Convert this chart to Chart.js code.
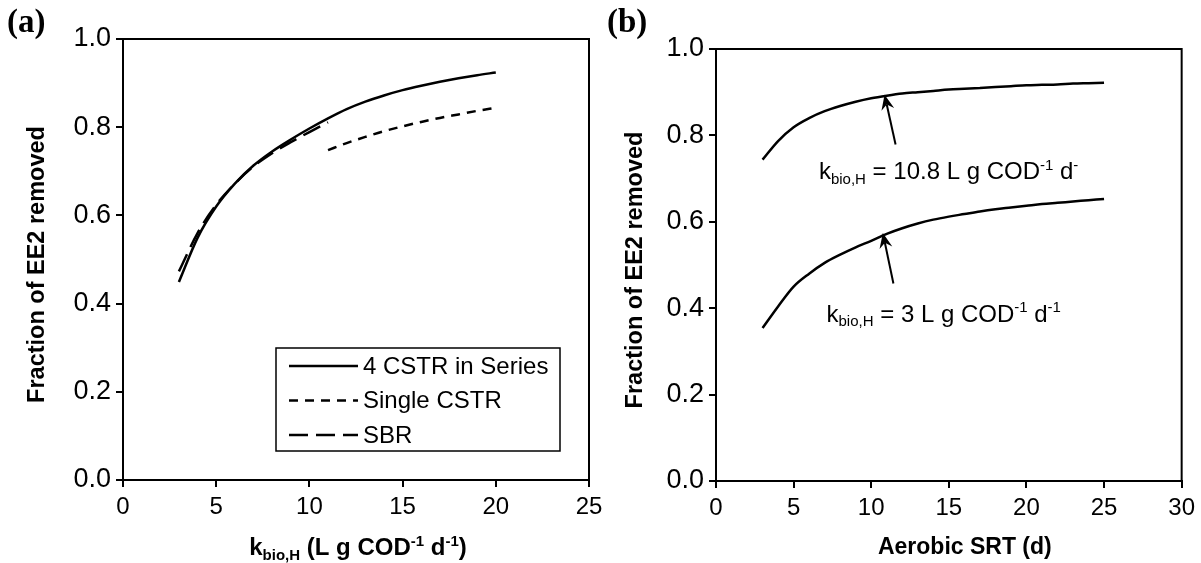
<!DOCTYPE html>
<html>
<head>
<meta charset="utf-8">
<script src="https://cdn.jsdelivr.net/npm/chart.js@4.4.1/dist/chart.umd.min.js"></script>
<style>
  html, body { margin: 0; padding: 0; background: #fff; }
  #wrap { position: relative; width: 1201px; height: 563px; overflow: hidden; }
  #chartA { position: absolute; left: 0; top: 0; }
  #chartB { position: absolute; left: 600px; top: 0; }
</style>
</head>
<body>
<div id="wrap">
  <canvas id="chartA" width="630" height="563"></canvas>
  <canvas id="chartB" width="601" height="563"></canvas>
</div>
<script>
// ---- Panel (a): fraction of EE2 removed vs k_bio,H for three reactor layouts ----
const kbioFourCstr = [3, 4, 5, 6, 7, 8, 9, 10, 11, 12, 13, 14, 15, 16, 17, 18, 19, 20];
const removedFourCstr = [0.449, 0.549, 0.620, 0.672, 0.713, 0.745, 0.772, 0.797, 0.820, 0.841, 0.858, 0.872, 0.884, 0.894, 0.903, 0.911, 0.918, 0.924];
const kbioSingleCstr = [11, 12, 13, 14, 15, 16, 17, 18, 19, 20];
const removedSingleCstr = [0.748, 0.764, 0.778, 0.791, 0.802, 0.812, 0.821, 0.829, 0.837, 0.844];
const kbioSbr = [3, 4, 5, 6, 7, 8, 9, 10, 11];
const removedSbr = [0.473, 0.560, 0.624, 0.672, 0.711, 0.741, 0.766, 0.789, 0.811];
const seriesNamesA = ['4 CSTR in Series', 'Single CSTR', 'SBR'];
const xTicksA = [0, 5, 10, 15, 20, 25];

// ---- Panel (b): fraction of EE2 removed vs aerobic SRT for two k_bio,H values ----
const srtDays = [3, 4, 5, 6, 7, 8, 9, 10, 11, 12, 13, 14, 15, 16, 17, 18, 19, 20, 21, 22, 23, 24, 25];
const removedK108 = [0.744, 0.787, 0.819, 0.840, 0.856, 0.868, 0.878, 0.886, 0.892, 0.897, 0.900, 0.903, 0.906, 0.908, 0.910, 0.912, 0.914, 0.916, 0.917, 0.918, 0.920, 0.921, 0.922];
const removedK3 = [0.354, 0.404, 0.450, 0.480, 0.505, 0.524, 0.541, 0.556, 0.572, 0.585, 0.596, 0.605, 0.612, 0.618, 0.624, 0.629, 0.633, 0.637, 0.641, 0.644, 0.647, 0.650, 0.653];
const seriesNamesB = ['k_bio,H = 10.8', 'k_bio,H = 3'];
const xTicksB = [0, 5, 10, 15, 20, 25, 30];

const yTicks = [0, 0.2, 0.4, 0.6, 0.8, 1.0];

const SANS = "'Liberation Sans', Arial, sans-serif";
const SERIF = "'Liberation Serif', 'Times New Roman', serif";

function points(xs, ys) { return xs.map((x, i) => ({ x: x, y: ys[i] })); }

// Draws text made of normal / subscript / superscript runs.
function drawRich(ctx, runs, x, y, size, weight, align) {
  const small = Math.round(size * 0.62);
  const fontFor = k => `${weight} ${k === 0 ? size : small}px ${SANS}`;
  let total = 0;
  runs.forEach(([t, k]) => { ctx.font = fontFor(k); total += ctx.measureText(t).width; });
  let cx = align === 'center' ? x - total / 2 : x;
  ctx.textAlign = 'left';
  ctx.textBaseline = 'alphabetic';
  runs.forEach(([t, k]) => {
    ctx.font = fontFor(k);
    const dy = k === 1 ? size * 0.2 : (k === 2 ? -size * 0.38 : 0);
    ctx.fillText(t, cx, y + dy);
    cx += ctx.measureText(t).width;
  });
}

function drawArrow(ctx, x0, y0, x1, y1) {
  const ang = Math.atan2(y1 - y0, x1 - x0);
  const len = 15, half = 6.5, notch = 10;
  ctx.save();
  ctx.strokeStyle = '#000';
  ctx.fillStyle = '#000';
  ctx.lineWidth = 2;
  ctx.beginPath();
  ctx.moveTo(x0, y0);
  ctx.lineTo(x1 - Math.cos(ang) * notch, y1 - Math.sin(ang) * notch);
  ctx.stroke();
  ctx.translate(x1, y1);
  ctx.rotate(ang);
  ctx.beginPath();
  ctx.moveTo(0, 0);
  ctx.lineTo(-len, -half);
  ctx.lineTo(-notch, 0);
  ctx.lineTo(-len, half);
  ctx.closePath();
  ctx.fill();
  ctx.restore();
}

function axisOptions(ticksList, min, max, fmt, fixedSize, isX) {
  return {
    type: 'linear',
    min: min,
    max: max,
    afterBuildTicks: s => { s.ticks = ticksList.map(v => ({ value: v })); },
    afterFit: s => { if (isX) s.height = fixedSize; else s.width = fixedSize; },
    border: { display: true, color: '#000', width: 2 },
    grid: { display: true, drawOnChartArea: false, drawTicks: true, tickLength: 7, color: '#000', lineWidth: 2 },
    ticks: {
      color: '#000',
      font: { family: SANS, size: isX ? 24 : 27 },
      padding: isX ? 6 : 5,
      maxRotation: 0,
      autoSkip: false,
      callback: fmt
    }
  };
}

function frameAndTitles(letter, yTitleX, drawExtra) {
  return {
    id: 'frameAndTitles' + letter,
    afterDraw(chart) {
      const { ctx, chartArea: a } = chart;
      ctx.save();
      ctx.strokeStyle = '#000';
      ctx.lineWidth = 2;
      ctx.strokeRect(a.left, a.top, a.right - a.left, a.bottom - a.top);
      ctx.fillStyle = '#000';
      // panel letter
      ctx.font = `bold 33px ${SERIF}`;
      ctx.textAlign = 'left';
      ctx.textBaseline = 'alphabetic';
      ctx.fillText('(' + letter + ')', 7, 32);
      // y-axis title
      ctx.save();
      ctx.translate(yTitleX, (a.top + a.bottom) / 2 + 5);
      ctx.rotate(-Math.PI / 2);
      ctx.font = `bold 23.5px ${SANS}`;
      ctx.textAlign = 'center';
      ctx.textBaseline = 'middle';
      ctx.fillText('Fraction of EE2 removed', 0, 0);
      ctx.restore();
      drawExtra(chart, ctx, a);
      ctx.restore();
    }
  };
}

const lineStyle = (dash) => ({
  borderColor: '#000', backgroundColor: '#000', borderWidth: 2.5, borderDash: dash,
  pointRadius: 0, showLine: true, fill: false, cubicInterpolationMode: 'monotone'
});

const dashesA = [[], [9, 7], [19, 8]];

// ---- Chart (a) ----
new Chart(document.getElementById('chartA'), {
  type: 'scatter',
  data: {
    datasets: [
      Object.assign({ label: seriesNamesA[0], data: points(kbioFourCstr, removedFourCstr) }, lineStyle(dashesA[0])),
      Object.assign({ label: seriesNamesA[1], data: points(kbioSingleCstr, removedSingleCstr) }, lineStyle(dashesA[1])),
      Object.assign({ label: seriesNamesA[2], data: points(kbioSbr, removedSbr) }, lineStyle(dashesA[2]))
    ]
  },
  options: {
    responsive: false,
    animation: false,
    devicePixelRatio: 1,
    layout: { padding: { left: 0, right: 41, top: 39, bottom: 0 } },
    plugins: { legend: { display: false }, tooltip: { enabled: false } },
    scales: {
      x: axisOptions(xTicksA, 0, 25, v => String(v), 83, true),
      y: axisOptions(yTicks, 0, 1, v => v.toFixed(1), 123, false)
    }
  },
  plugins: [frameAndTitles('a', 38, (chart, ctx, a) => {
    // x-axis title
    ctx.fillStyle = '#000';
    drawRich(ctx, [['k', 0], ['bio,H', 1], [' (L g COD', 0], ['-1', 2], [' d', 0], ['-1', 2], [')', 0]],
      (a.left + a.right) / 2 + 2, 555, 24, 'bold', 'center');
    // legend box
    const bx = a.left + 153, by = a.top + 309, bw = 284, bh = 103;
    ctx.lineWidth = 1.5;
    ctx.strokeStyle = '#000';
    ctx.strokeRect(bx, by, bw, bh);
    chart.data.datasets.forEach((ds, i) => {
      const ry = by + 18 + i * 34.5;
      ctx.save();
      ctx.lineWidth = ds.borderWidth;
      ctx.setLineDash(ds.borderDash);
      ctx.beginPath();
      ctx.moveTo(bx + 13, ry);
      ctx.lineTo(bx + 82, ry);
      ctx.stroke();
      ctx.restore();
      ctx.font = `24px ${SANS}`;
      ctx.textAlign = 'left';
      ctx.textBaseline = 'middle';
      ctx.fillText(ds.label, bx + 87, ry + 1);
    });
  })]
});

// ---- Chart (b) ----
const arrowsB = [
  { tail: [11.57, 0.779], tip: [10.86, 0.894], label: [6.63, 0.698], kbio: '10.8', last: '-' },
  { tail: [11.43, 0.457], tip: [10.75, 0.574], label: [7.12, 0.369], kbio: '3', last: '-1' }
];

new Chart(document.getElementById('chartB'), {
  type: 'scatter',
  data: {
    datasets: [
      Object.assign({ label: seriesNamesB[0], data: points(srtDays, removedK108) }, lineStyle([])),
      Object.assign({ label: seriesNamesB[1], data: points(srtDays, removedK3) }, lineStyle([]))
    ]
  },
  options: {
    responsive: false,
    animation: false,
    devicePixelRatio: 1,
    layout: { padding: { left: 0, right: 17, top: 49, bottom: 0 } },
    plugins: { legend: { display: false }, tooltip: { enabled: false } },
    scales: {
      x: axisOptions(xTicksB, 0, 30, v => String(v), 82, true),
      y: axisOptions(yTicks, 0, 1, v => v.toFixed(1), 116, false)
    }
  },
  plugins: [frameAndTitles('b', 36, (chart, ctx, a) => {
    const sx = chart.scales.x, sy = chart.scales.y;
    ctx.fillStyle = '#000';
    ctx.font = `bold 23px ${SANS}`;
    ctx.textAlign = 'center';
    ctx.textBaseline = 'alphabetic';
    ctx.fillText('Aerobic SRT (d)', (a.left + a.right) / 2 + 16, 554);
    arrowsB.forEach(ar => {
      drawArrow(ctx, sx.getPixelForValue(ar.tail[0]), sy.getPixelForValue(ar.tail[1]),
        sx.getPixelForValue(ar.tip[0]), sy.getPixelForValue(ar.tip[1]));
      drawRich(ctx, [['k', 0], ['bio,H', 1], [' = ' + ar.kbio + ' L g COD', 0], ['-1', 2], [' d', 0], [ar.last, 2]],
        sx.getPixelForValue(ar.label[0]), sy.getPixelForValue(ar.label[1]), 24, 'normal', 'left');
    });
  })]
});
</script>
</body>
</html>
